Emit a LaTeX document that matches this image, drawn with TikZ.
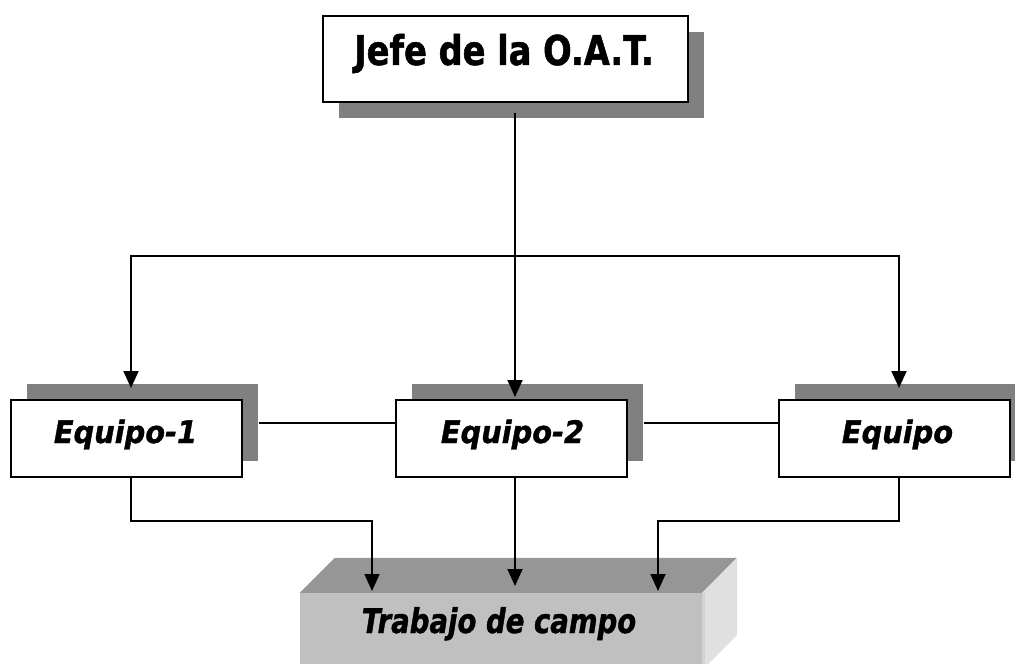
\documentclass[tikz,border=0pt]{standalone}
\usepackage{fontspec}
\usetikzlibrary{arrows.meta,shadows,calc}
\newfontfamily\titlefont[FakeStretch=0.82, BoldFeatures={FakeBold=1.2}]{DejaVu Sans}
\newfontfamily\eqfont[FakeStretch=0.93, BoldItalicFeatures={FakeBold=1.2}]{DejaVu Sans}
\newfontfamily\trfont[FakeStretch=0.81, BoldItalicFeatures={FakeBold=1.2}]{DejaVu Sans}
\definecolor{shadowgray}{HTML}{808080}
\definecolor{frontgray}{HTML}{C0C0C0}
\definecolor{topgray}{HTML}{969696}
\definecolor{sidegray}{HTML}{E0E0E0}
\definecolor{edgegray}{HTML}{D2D2D2}
\begin{document}
\begin{tikzpicture}[x=1bp,y=-1bp,
  box/.style={draw, line width=2bp, fill=white, inner sep=0pt},
  shadowdown/.style={drop shadow={shadow xshift=16bp, shadow yshift=-16bp, fill=shadowgray, opacity=1}},
  shadowup/.style={drop shadow={shadow xshift=16bp, shadow yshift=16bp, fill=shadowgray, opacity=1}},
  titletext/.style={inner sep=0pt, font=\titlefont\bfseries\fontsize{41bp}{48bp}\selectfont},
  eqtext/.style={inner sep=0pt, font=\eqfont\bfseries\itshape\fontsize{31bp}{36bp}\selectfont},
  trtext/.style={inner sep=0pt, font=\trfont\bfseries\itshape\fontsize{34bp}{40bp}\selectfont},
  conn/.style={line width=1.8bp},
  arr/.style={-{Triangle[width=15bp,length=17bp]}}]
\useasboundingbox (0,0) rectangle (1015,664);
\clip (0,0) rectangle (1015,664);

% top box
\node[box, shadowdown, minimum width=365bp, minimum height=86bp] (jefe) at (505.5,59) {};
\node[titletext, anchor=base] (jefeT) at (504,65) {Jefe de la O.A.T.};

% team boxes
\node[box, shadowup, minimum width=231bp, minimum height=77bp] (eq1) at (126.5,438.5) {};
\node[eqtext, anchor=base] (eq1T) at (125.5,443) {Equipo-1};
\node[box, shadowup, minimum width=231bp, minimum height=77bp] (eq2) at (511,438.5) {};
\node[eqtext, anchor=base] (eq2T) at (512.5,443) {Equipo-2};
\node[box, shadowup, minimum width=231bp, minimum height=77bp] (eq3) at (894.5,438.5) {};
\node[eqtext, anchor=base] (eq3T) at (897.5,443) {Equipo};

% field work block
\node[fill=frontgray, minimum width=402bp, minimum height=77bp, inner sep=0pt] (trab) at (501,631.5) {};
\fill[topgray] (trab.north west) -- ++(35,-35) -- ++(402,0) -- (trab.north east) -- cycle;
\fill[sidegray] (trab.north east) -- ++(35,-35) -- ++(0,77) -- (trab.south east) -- cycle;
\draw[edgegray, line width=2.5bp] ($(trab.north east)+(1.5,0)$) -- ($(trab.south east)+(1.5,0)$);
\node[trtext, anchor=base] (trabT) at (499,633) {Trabajo de campo};

% connectors
\coordinate (hb) at (515,256);
\coordinate (a1) at (372,591);
\coordinate (a2) at (515,586);
\coordinate (a3) at (658,591);
\draw[conn,arr] ($(jefe.south)+(9.5,10)$) -- ($(eq2.north)+(4,-2)$);
\draw[conn,arr] (hb) -| ($(eq1.north)+(4.5,-11)$);
\draw[conn,arr] (hb) -| ($(eq3.north)+(4.5,-11)$);
\draw[conn] ($(eq1.east)+(16,-15.5)$) -- ($(eq2.west)+(0,-15.5)$);
\draw[conn] ($(eq2.east)+(16,-15.5)$) -- ($(eq3.west)+(0,-15.5)$);
\draw[conn,arr] ($(eq1.south)+(4.5,0)$) -- ++(0,43) -| (a1);
\draw[conn,arr] ($(eq2.south)+(4,0)$) -- (a2);
\draw[conn,arr] ($(eq3.south)+(4.5,0)$) -- ++(0,43) -| (a3);
\end{tikzpicture}
\end{document}
